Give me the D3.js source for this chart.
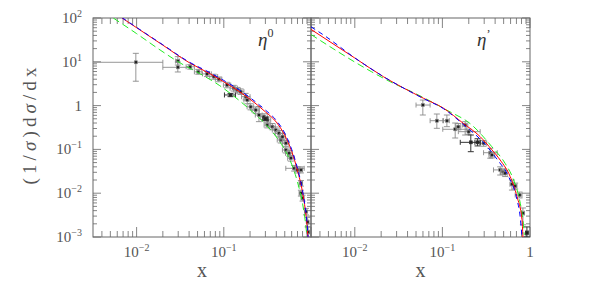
<!DOCTYPE html>
<html><head><meta charset="utf-8">
<script src="https://cdn.jsdelivr.net/npm/d3@7"></script>
<style>body{margin:0;background:#fff}</style>
</head><body>
<svg id="chart" width="598" height="287"></svg>
<script>
// [x, y, xlo, xhi, ylo, yhi]
var eta0Gray = [
  [0.0098, 9.75, 0.003, 0.020, 3.6, 15.6],
  [0.0297, 10.4, 0.028, 0.031, 8.45, 13.1],
  [0.0297, 7.48, 0.020, 0.0412, 5.85, 9.9],
  [0.0412, 7.7, 0.037, 0.046, 6.8, 8.6],
  [0.051, 5.9, 0.046, 0.056, 5.2, 6.7],
  [0.0643, 5.3, 0.057, 0.072, 4.6, 6.0],
  [0.0766, 4.6, 0.069, 0.085, 4.0, 5.2],
  [0.0875, 4.0, 0.08, 0.095, 3.5, 4.5],
  [0.109, 2.95, 0.099, 0.12, 2.55, 3.4],
  [0.130, 2.5, 0.118, 0.143, 2.15, 2.9],
  [0.1425, 2.27, 0.13, 0.155, 1.95, 2.6],
  [0.156, 2.08, 0.142, 0.17, 1.8, 2.4],
  [0.178, 1.6, 0.16, 0.2, 1.35, 1.9],
  [0.186, 1.34, 0.17, 0.2, 1.1, 1.6],
  [0.203, 0.94, 0.185, 0.22, 0.8, 1.1],
  [0.232, 0.79, 0.21, 0.255, 0.67, 0.93],
  [0.253, 0.61, 0.23, 0.275, 0.43, 0.95],
  [0.289, 0.56, 0.265, 0.315, 0.48, 0.65],
  [0.316, 0.47, 0.29, 0.345, 0.40, 0.55],
  [0.316, 0.36, 0.29, 0.345, 0.31, 0.42],
  [0.361, 0.33, 0.33, 0.39, 0.28, 0.39],
  [0.394, 0.277, 0.36, 0.43, 0.235, 0.325],
  [0.43, 0.233, 0.39, 0.47, 0.2, 0.27],
  [0.45, 0.164, 0.41, 0.49, 0.14, 0.19],
  [0.471, 0.195, 0.43, 0.51, 0.165, 0.23],
  [0.514, 0.138, 0.47, 0.56, 0.118, 0.16],
  [0.514, 0.097, 0.47, 0.56, 0.083, 0.113],
  [0.562, 0.0815, 0.51, 0.61, 0.07, 0.095],
  [0.587, 0.063, 0.54, 0.64, 0.054, 0.073],
  [0.641, 0.037, 0.514, 0.836, 0.032, 0.043],
  [0.70, 0.034, 0.66, 0.74, 0.029, 0.04],
  [0.766, 0.034, 0.73, 0.8, 0.029, 0.04],
  [0.766, 0.0168, 0.73, 0.8, 0.0145, 0.0195],
  [0.766, 0.01, 0.73, 0.8, 0.0086, 0.0117],
  [0.80, 0.0077, 0.77, 0.83, 0.0066, 0.009],
  [0.875, 0.0038, 0.85, 0.9, 0.0032, 0.0045],
  [0.914, 0.0022, 0.89, 0.94, 0.0017, 0.0028],
  [0.929, 0.0013, 0.91, 0.95, 0.001, 0.0017]
];
var eta0Black = [
  [0.1194, 1.75, 0.1017, 0.136, 1.6, 1.9],
  [0.30, 0.50, 0.28, 0.32, 0.46, 0.54]
];
var etapGray = [
  [0.0598, 1.03, 0.050, 0.0724, 0.61, 1.34],
  [0.0864, 0.452, 0.0724, 0.103, 0.303, 0.643],
  [0.1125, 0.452, 0.101, 0.12, 0.33, 0.61],
  [0.14, 0.288, 0.101, 0.19, 0.182, 0.40],
  [0.152, 0.33, 0.142, 0.162, 0.28, 0.39],
  [0.182, 0.36, 0.17, 0.195, 0.213, 0.43],
  [0.199, 0.254, 0.152, 0.27, 0.22, 0.29],
  [0.295, 0.138, 0.27, 0.32, 0.118, 0.16],
  [0.352, 0.084, 0.295, 0.423, 0.063, 0.106],
  [0.367, 0.0745, 0.34, 0.395, 0.064, 0.087],
  [0.457, 0.034, 0.383, 0.521, 0.026, 0.040],
  [0.491, 0.031, 0.46, 0.52, 0.027, 0.036],
  [0.521, 0.0284, 0.49, 0.55, 0.024, 0.033],
  [0.622, 0.016, 0.59, 0.655, 0.0118, 0.02],
  [0.678, 0.0146, 0.65, 0.71, 0.0125, 0.017],
  [0.76, 0.0091, 0.678, 0.81, 0.0078, 0.0106],
  [0.83, 0.0035, 0.8, 0.86, 0.0019, 0.0046]
];
var etapBlack = [
  [0.211, 0.145, 0.16, 0.27, 0.0886, 0.213],
  [0.252, 0.145, 0.235, 0.27, 0.12, 0.175],
  [0.922, 0.00125, 0.9, 0.95, 0.001, 0.0017]
];

// curves [x, y]
var eta0Red = [[0.0068,100],[0.01,60],[0.02,24],[0.04,9.6],[0.07,5.3],[0.1,3.5],[0.15,2.1],[0.2,1.4],[0.3,0.72],[0.4,0.42],[0.5,0.21],[0.6,0.09],[0.7,0.033],[0.8,0.0105],[0.86,0.0042],[0.9,0.0019],[0.92,0.001]];
var eta0Blue = [[0.0068,102],[0.01,61],[0.02,24.5],[0.04,9.9],[0.07,5.6],[0.1,3.75],[0.15,2.3],[0.2,1.52],[0.3,0.79],[0.4,0.46],[0.5,0.235],[0.6,0.1],[0.7,0.037],[0.8,0.0115],[0.86,0.0046],[0.9,0.0021],[0.925,0.001]];
var eta0Green = [[0.0054,100],[0.01,44],[0.0186,18.6],[0.03,10],[0.0538,5.3],[0.09,2.85],[0.13,1.65],[0.222,0.67],[0.3,0.38],[0.377,0.225],[0.49,0.105],[0.6,0.046],[0.7,0.018],[0.8,0.0058],[0.86,0.0023],[0.9,0.001]];
var etapRed = [[0.00316,55],[0.01,12.2],[0.0212,4.57],[0.0608,1.47],[0.103,0.87],[0.174,0.39],[0.27,0.195],[0.367,0.098],[0.457,0.057],[0.594,0.024],[0.71,0.0084],[0.81,0.0025],[0.83,0.001]];
var etapBlue = [[0.00316,63],[0.0046,38.5],[0.01,12.3],[0.0212,4.6],[0.0608,1.45],[0.103,0.85],[0.174,0.37],[0.308,0.13],[0.419,0.06],[0.569,0.024],[0.71,0.0072],[0.774,0.0028],[0.81,0.001]];
var etapGreen = [[0.00316,42],[0.0156,5.9],[0.0232,3.84],[0.053,1.75],[0.112,0.79],[0.217,0.36],[0.367,0.115],[0.52,0.048],[0.65,0.02],[0.774,0.0059],[0.83,0.0025],[0.86,0.0011]];

var yTickVals = [100, 10, 1, 0.1, 0.01, 0.001];
var yTickExp = ["2", "1", "", "\u22121", "\u22122", "\u22123"];
var xTickVals = [0.01, 0.1, 1];
var xTickExp = ["\u22122", "\u22121", ""];

var svg = d3.select("#chart");
var plotTop = 18, plotBottom = 237;
var frameColor = "#666", textColor = "#555";
var font = "Liberation Serif, DejaVu Serif, serif";

var y = d3.scaleLog().domain([0.001, 100]).range([plotBottom, plotTop]);

function isMajor(v) { return Math.abs(Math.log10(v) - Math.round(Math.log10(v))) < 1e-6; }

function drawPanel(x0, x1, id, gray, black, red, blue, green, showOne, sym, sup) {
  var x = d3.scaleLog().domain([Math.pow(10, -2.5), 1]).range([x0, x1]);
  var g = svg.append("g");

  g.append("clipPath").attr("id", "clip" + id)
    .append("rect").attr("x", x0).attr("y", plotTop).attr("width", x1 - x0).attr("height", plotBottom - plotTop);

  // ticks on all four sides, pointing inward
  var xt = x.ticks().filter(function(v){ return v >= x.domain()[0] && v <= 1; });
  xt.forEach(function(v) {
    var len = isMajor(v) ? 10 : 6;
    var px = x(v);
    g.append("line").attr("x1", px).attr("x2", px).attr("y1", plotBottom).attr("y2", plotBottom - len)
      .attr("stroke", frameColor).attr("stroke-width", 0.8);
    g.append("line").attr("x1", px).attr("x2", px).attr("y1", plotTop).attr("y2", plotTop + len)
      .attr("stroke", frameColor).attr("stroke-width", 0.8);
  });
  var yt = y.ticks();
  yt.forEach(function(v) {
    var len = isMajor(v) ? 8 : 4;
    var py = y(v);
    g.append("line").attr("x1", x0).attr("x2", x0 + len).attr("y1", py).attr("y2", py)
      .attr("stroke", frameColor).attr("stroke-width", 0.8);
    g.append("line").attr("x1", x1).attr("x2", x1 - len).attr("y1", py).attr("y2", py)
      .attr("stroke", frameColor).attr("stroke-width", 0.8);
  });

  g.append("rect").attr("x", x0).attr("y", plotTop).attr("width", x1 - x0).attr("height", plotBottom - plotTop)
    .attr("fill", "none").attr("stroke", frameColor).attr("stroke-width", 1);

  // x tick labels
  xTickVals.forEach(function(v, i) {
    if (v === 1 && !showOne) return;
    var t = g.append("text").attr("x", x(v)).attr("y", 257)
      .attr("text-anchor", "middle").attr("font-family", font).attr("font-size", 15)
      .attr("fill", textColor);
    if (xTickExp[i] === "") { t.text("1"); }
    else {
      t.append("tspan").text("10");
      t.append("tspan").attr("dy", -6).attr("font-size", 10).text(xTickExp[i]);
    }
  });

  g.append("text").attr("x", (x0 + x1) / 2).attr("y", 277).attr("text-anchor", "middle")
    .attr("font-family", font).attr("font-size", 20).attr("fill", textColor).text("x");

  // data
  var data = g.append("g").attr("clip-path", "url(#clip" + id + ")");
  function drawPoints(pts, col, w) {
    pts.forEach(function(d) {
      var px = x(d[0]), py = y(d[1]);
      data.append("line").attr("x1", x(d[2])).attr("x2", x(d[3])).attr("y1", py).attr("y2", py)
        .attr("stroke", col).attr("stroke-width", w);
      data.append("line").attr("x1", px).attr("x2", px).attr("y1", y(d[4])).attr("y2", y(d[5]))
        .attr("stroke", col).attr("stroke-width", w);
      [x(d[2]), x(d[3])].forEach(function(cx) {
        data.append("line").attr("x1", cx).attr("x2", cx).attr("y1", py - 2.5).attr("y2", py + 2.5)
          .attr("stroke", col).attr("stroke-width", w);
      });
      [y(d[4]), y(d[5])].forEach(function(cy) {
        data.append("line").attr("x1", px - 3).attr("x2", px + 3).attr("y1", cy).attr("y2", cy)
          .attr("stroke", col).attr("stroke-width", w);
      });
      data.append("rect").attr("x", px - 1.5).attr("y", py - 1.5).attr("width", 3).attr("height", 3)
        .attr("fill", "#222").attr("stroke", col).attr("stroke-width", 0.6);
    });
  }
  drawPoints(gray, "#8a8a8a", 0.9);
  drawPoints(black, "#333", 1);

  var line = d3.line().x(function(d){ return x(d[0]); }).y(function(d){ return y(d[1]); })
    .curve(d3.curveMonotoneX);
  data.append("path").datum(green).attr("d", line).attr("fill", "none")
    .attr("stroke", "#22ee22").attr("stroke-width", 1).attr("stroke-dasharray", "7,4");
  data.append("path").datum(red).attr("d", line).attr("fill", "none")
    .attr("stroke", "#ff0000").attr("stroke-width", 1);
  data.append("path").datum(blue).attr("d", line).attr("fill", "none")
    .attr("stroke", "#0000ff").attr("stroke-width", 1).attr("stroke-dasharray", "5,4");

  var lab = g.append("text").attr("x", sym.x).attr("y", 46).attr("font-family", font)
    .attr("font-size", 19).attr("font-style", "italic").attr("fill", "#333");
  lab.append("tspan").text("\u03b7");
  lab.append("tspan").attr("dy", sym.dy).attr("font-size", sym.fs).attr("font-style", "normal").text(sup);
}

drawPanel(93, 311, "L", eta0Gray, eta0Black, eta0Red, eta0Blue, eta0Green, false, {x: 258, dy: -9, fs: 12}, "0");
drawPanel(311, 530, "R", etapGray, etapBlack, etapRed, etapBlue, etapGreen, true, {x: 477, dy: -8, fs: 12}, "\u2019");

// y tick labels
yTickVals.forEach(function(v, i) {
  var t = svg.append("text").attr("x", 82).attr("y", y(v) + 5).attr("text-anchor", "end")
    .attr("font-family", font).attr("font-size", 15).attr("fill", textColor);
  if (yTickExp[i] === "") { t.text("1"); }
  else {
    t.append("tspan").text("10");
    t.append("tspan").attr("dy", -6).attr("font-size", 10).text(yTickExp[i]);
  }
});

// y label
var yl = svg.append("text").attr("transform", "translate(36,126)rotate(-90)")
  .attr("text-anchor", "middle").attr("font-family", font).attr("font-size", 19)
  .attr("fill", textColor).attr("textLength", 117).attr("lengthAdjust", "spacing");
yl.append("tspan").text("(1/");
yl.append("tspan").attr("font-style", "italic").text("\u03c3");
yl.append("tspan").text(")d");
yl.append("tspan").attr("font-style", "italic").text("\u03c3");
yl.append("tspan").text("/dx");
</script>
</body></html>
